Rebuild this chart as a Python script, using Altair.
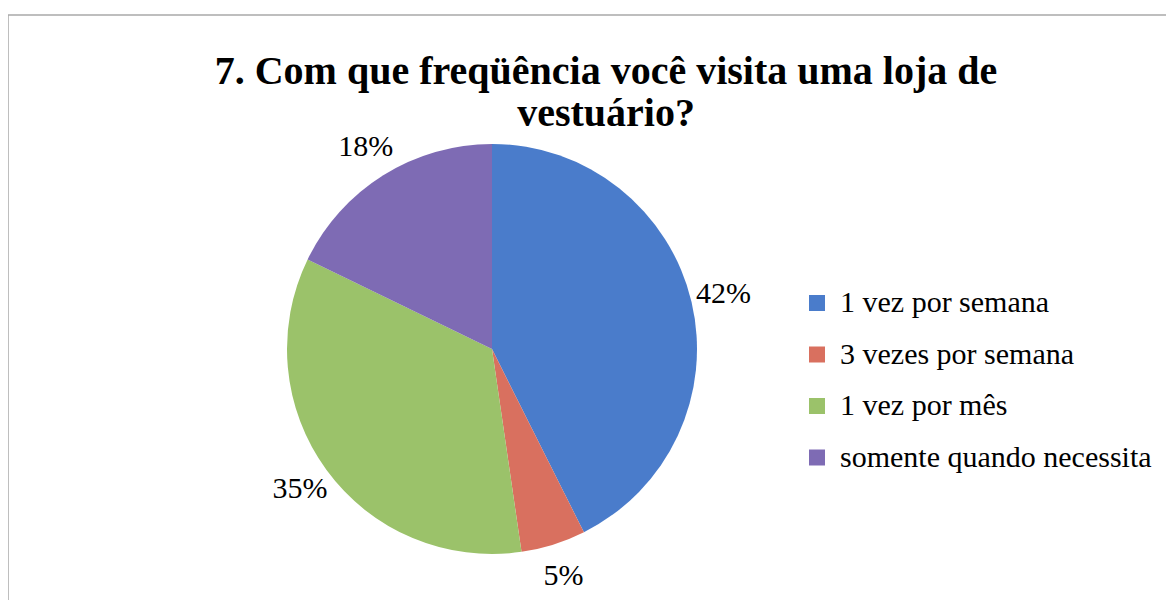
import altair as alt
import pandas as pd

categories = ["1 vez por semana", "3 vezes por semana", "1 vez por mês", "somente quando necessita"]
values = [42.6, 5.1, 34.5, 17.8]
labels = ["42%", "5%", "35%", "18%"]
colors = ["#4A7CCB", "#D9705F", "#9BC26A", "#7E6BB4"]
title_lines = ["7. Com que freqüência você visita uma loja de", "vestuário?"]

df = pd.DataFrame({"cat": categories, "val": values, "lab": labels, "ord": list(range(len(categories)))})

W, H = 1158, 592
CX, CY = 484, 341
R = 205
FONT = "Liberation Serif"

base = alt.Chart(df).encode(
    theta=alt.Theta("val:Q", stack=True),
    order=alt.Order("ord:Q"),
    x=alt.value(CX),
    y=alt.value(CY),
)

pie = base.mark_arc(radius=R, stroke=None).encode(
    color=alt.Color(
        "cat:N",
        sort=categories,
        scale=alt.Scale(domain=categories, range=colors),
        legend=alt.Legend(
            title=None,
            orient="none",
            legendX=794,
            legendY=280,
            symbolType="square",
            symbolSize=256,
            symbolStrokeWidth=0,
            symbolOpacity=1,
            labelFont=FONT,
            labelFontSize=30,
            labelColor="black",
            labelOffset=8,
            labelLimit=0,
            rowPadding=21.5,
            padding=0,
        ),
    )
)

text = base.mark_text(radius=238, font=FONT, fontSize=30, color="black", align="center", baseline="middle").encode(
    text="lab:N"
)

title = alt.Chart(pd.DataFrame({"t": [0]})).mark_text(
    font=FONT, fontSize=40, fontWeight="bold", color="black", align="center", baseline="alphabetic", lineHeight=42
).encode(x=alt.value(598), y=alt.value(76), text=alt.value(title_lines))

border_top = alt.Chart(pd.DataFrame({"t": [0]})).mark_rule(color="#A8A8A8", strokeWidth=1.5).encode(
    x=alt.value(0), x2=alt.value(W), y=alt.value(7)
)
border_left = alt.Chart(pd.DataFrame({"t": [0]})).mark_rule(color="#A8A8A8", strokeWidth=1.5).encode(
    x=alt.value(0), y=alt.value(7), y2=alt.value(H)
)

chart = alt.layer(border_top, border_left, pie, text, title).properties(
    width=W, height=H, autosize=alt.AutoSizeParams(type="none"), padding=0
).configure_view(stroke=None)

chart.save("out.html", embed_options={"renderer": "svg", "actions": False})
